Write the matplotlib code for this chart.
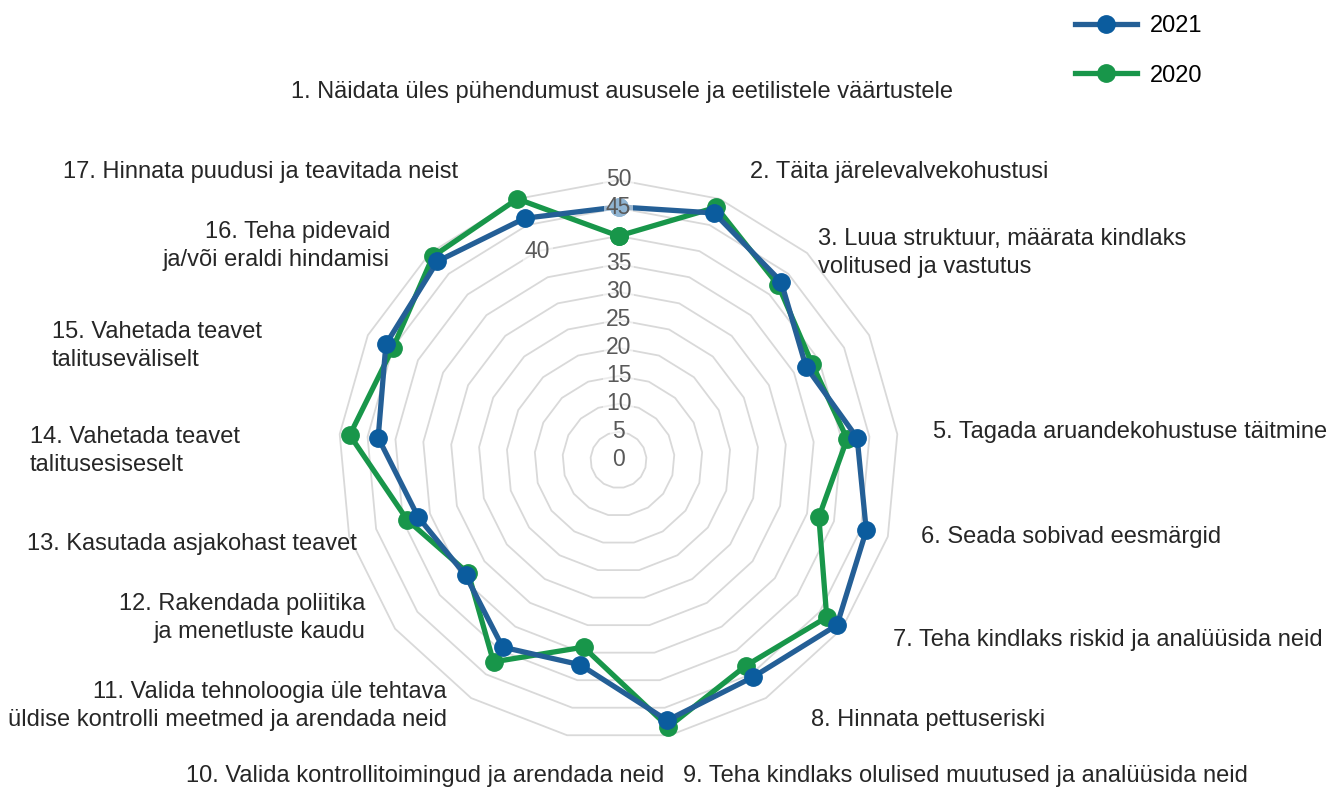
import numpy as np
import matplotlib
matplotlib.use("Agg")
import matplotlib.pyplot as plt

# --- Dados ---
kategooriad = [
    "1. Näidata üles pühendumust aususele ja eetilistele väärtustele",
    "2. Täita järelevalvekohustusi",
    "3. Luua struktuur, määrata kindlaks\nvolitused ja vastutus",
    "",
    "5. Tagada aruandekohustuse täitmine",
    "6. Seada sobivad eesmärgid",
    "7. Teha kindlaks riskid ja analüüsida neid",
    "8. Hinnata pettuseriski",
    "9. Teha kindlaks olulised muutused ja analüüsida neid",
    "10. Valida kontrollitoimingud ja arendada neid",
    "11. Valida tehnoloogia üle tehtava\nüldise kontrolli meetmed ja arendada neid",
    "12. Rakendada poliitika\nja menetluste kaudu",
    "13. Kasutada asjakohast teavet",
    "14. Vahetada teavet\ntalitusesiseselt",
    "15. Vahetada teavet\ntalituseväliselt",
    "16. Teha pidevaid\nja/või eraldi hindamisi",
    "17. Hinnata puudusi ja teavitada neist",
]
v2021 = [45.2, 47.3, 43.1, 37.4, 42.8, 46.0, 48.9, 45.6, 47.3, 37.2, 39.3, 34.2, 37.2, 43.1, 46.4, 48.0, 46.3]
v2020 = [40.0, 48.4, 42.3, 38.6, 41.0, 37.2, 46.6, 43.2, 48.5, 34.0, 42.4, 33.6, 39.2, 48.2, 45.0, 49.2, 50.0]
ticks = [0, 5, 10, 15, 20, 25, 30, 35, 40, 45, 50]

# --- Layout (pixels) ---
W, H = 1329, 790
CX, CY, R = 618.5, 460, 280
label_pos = [
    (622, 92, "center"), (750, 172, "left"), (818, 253, "left"), (0, 0, "left"),
    (933, 432, "left"), (921, 537, "left"), (893, 640, "left"), (811, 720, "left"),
    (683, 776, "left"), (664, 776, "right"), (447, 706, "right"), (365, 618, "right"),
    (357, 544, "right"), (30, 451, "left"), (52, 346, "left"), (390, 246, "right"),
    (458, 172, "right"),
]

AZUL = "#245F96"
VERDE = "#18964A"
FONTE = ["Liberation Sans", "DejaVu Sans"]
plt.rcParams["font.family"] = FONTE

fig = plt.figure(figsize=(W / 100, H / 100), dpi=100)
ax = fig.add_axes([(CX - R) / W, (H - CY - R) / H, 2 * R / W, 2 * R / H], projection="polar")
ax.set_theta_offset(np.pi / 2)
ax.set_theta_direction(-1)
ax.set_ylim(0, 50)
ax.grid(False)
ax.spines["polar"].set_visible(False)
ax.set_xticks([])
ax.set_yticks([])

n = len(kategooriad)
theta = np.linspace(0, 2 * np.pi, n, endpoint=False)
tt = np.append(theta, theta[0])

# anéis poligonais
for t in ticks[1:]:
    ax.plot(tt, [t] * (n + 1), color="#d9d9d9", lw=1.3, zorder=1, clip_on=False)

ax.plot(tt, v2020 + v2020[:1], color=VERDE, lw=3.8, marker="o", ms=12.5,
        mfc=VERDE, mec=VERDE, zorder=3, clip_on=False, label="2020")
ax.plot(tt, v2021 + v2021[:1], color=AZUL, lw=3.8, marker="o", ms=12.5,
        mfc="#0B5C9E", mec="#0B5C9E", zorder=4, clip_on=False, label="2021")

# rótulos do eixo radial
for t in ticks:
    ang = theta[-1] if t == 40 else 0
    ax.text(ang, t, str(t), ha="center", va="center", fontsize=16.5, color="#595959",
            zorder=5, bbox=dict(boxstyle="square,pad=0.1", fc="white", ec="none", alpha=0.55))

# rótulos das categorias
for txt, (x, y, ha) in zip(kategooriad, label_pos):
    if txt:
        fig.text(x / W, 1 - y / H, txt, ha=ha, va="center", fontsize=17,
                 color="#262626", linespacing=1.3)

h, l = ax.get_legend_handles_labels()
fig.legend(h[::-1], l[::-1], loc="upper left", bbox_to_anchor=(1066 / W, 1 - 6 / H),
           frameon=False, fontsize=17, handlelength=2.6, handletextpad=0.55,
           labelspacing=1.15, borderaxespad=0)

fig.savefig("out.png", dpi=100)
